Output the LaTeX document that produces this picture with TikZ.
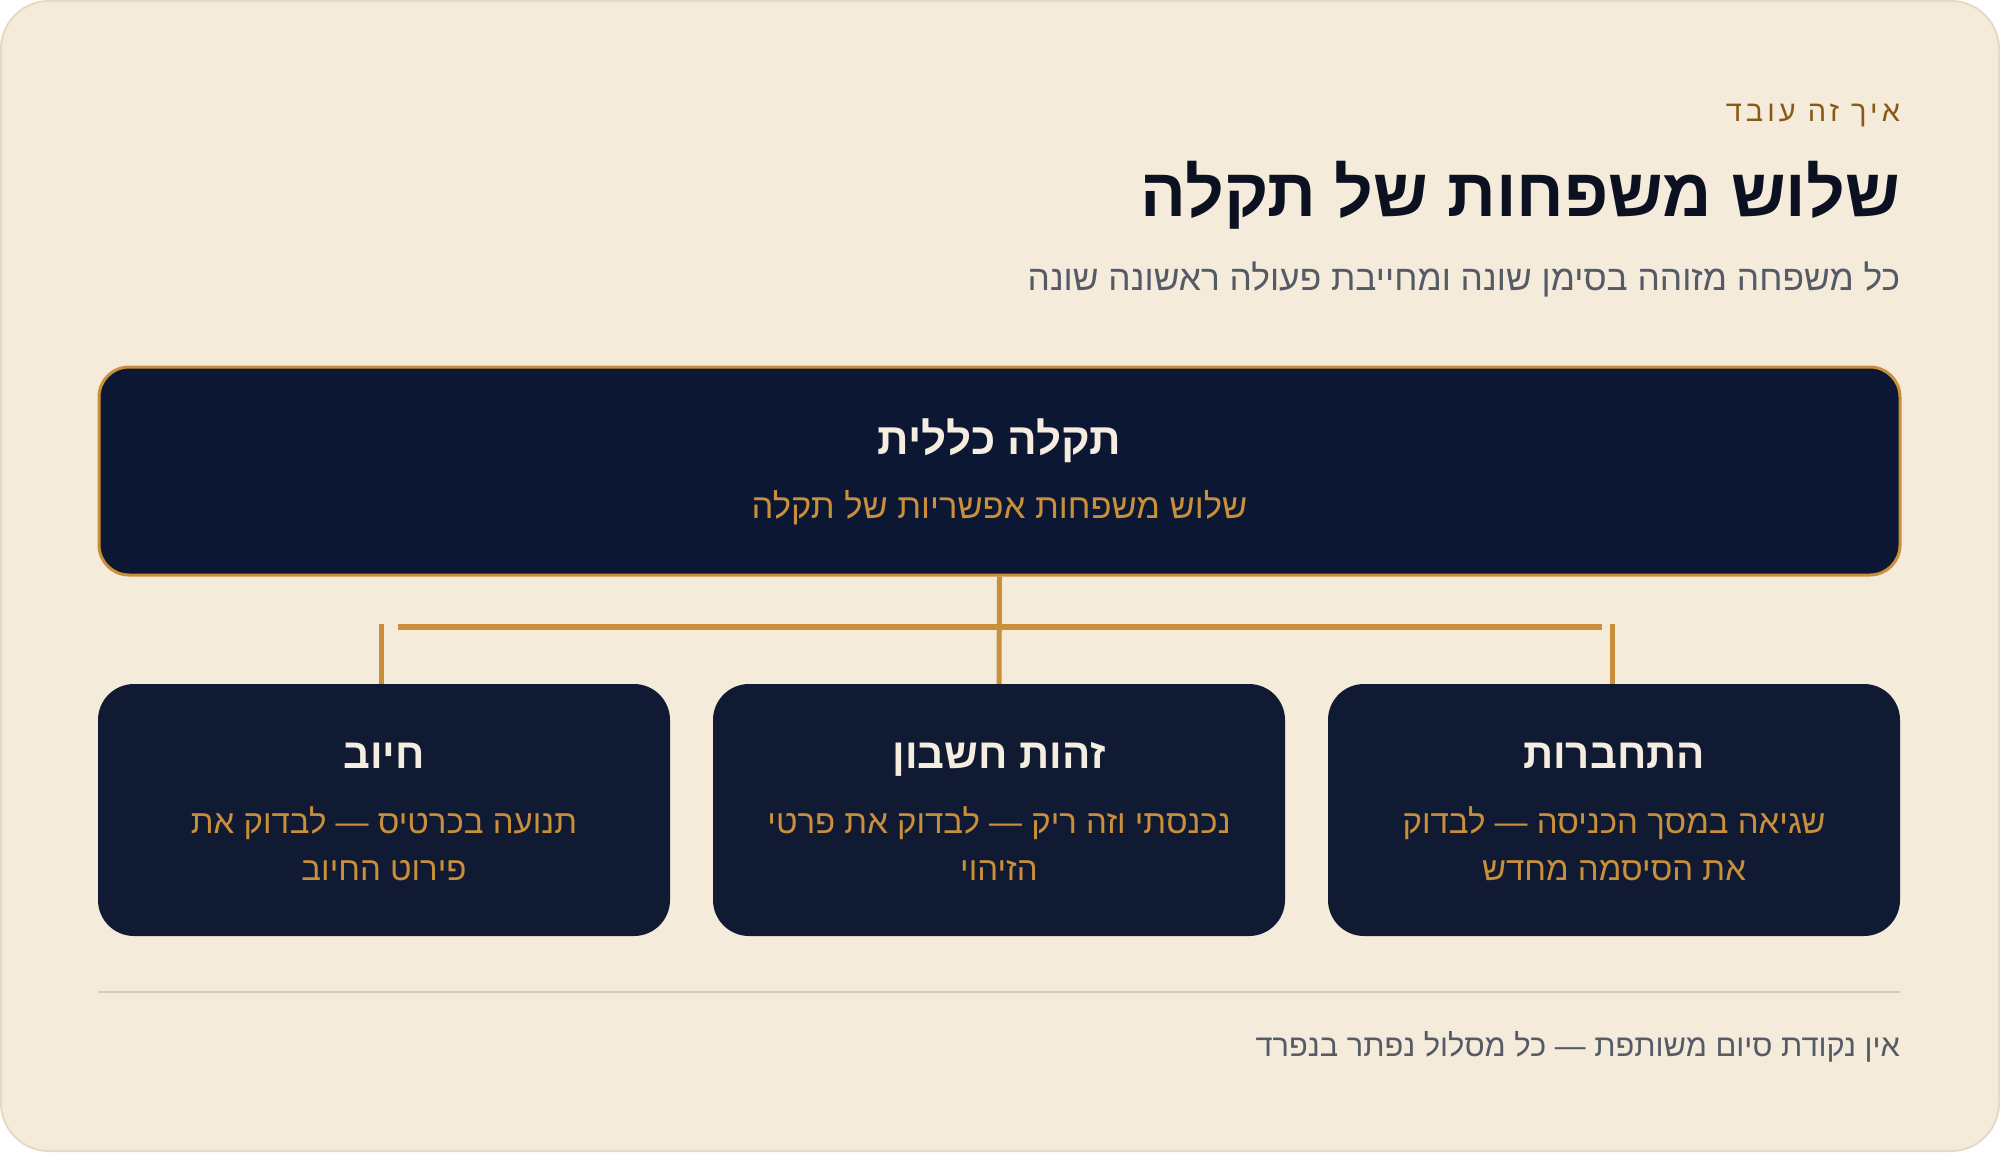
\documentclass[tikz,border=0pt]{standalone}
\usepackage{fontspec}
\setmainfont{Liberation Sans}
\newfontfamily\heb[Script=Hebrew]{Liberation Sans}
\newfontfamily\hebls[Script=Hebrew,LetterSpace=14]{Liberation Sans}
\TeXXeTstate=1
\definecolor{bg}{HTML}{F4EBDB}
\definecolor{bord}{HTML}{E5DBC2}
\definecolor{navyA}{HTML}{0C1833}
\definecolor{navyB}{HTML}{101B33}
\definecolor{gold}{HTML}{C98F3A}
\definecolor{ink}{HTML}{0B1120}
\definecolor{cream}{HTML}{F5EDE0}
\definecolor{grayt}{HTML}{555B66}
\definecolor{brown}{HTML}{8A5A14}
\definecolor{sepc}{HTML}{D3CABB}
\newcommand\RLt[1]{\beginR #1\endR}
\begin{document}
\begin{tikzpicture}[x=1pt,y=-1pt,
  txt/.style={inner sep=0pt, outer sep=0pt},
  topbox/.style={draw=gold, line width=3pt, fill=navyA, rounded corners=30pt, minimum width=1801pt, minimum height=208pt, inner sep=0pt},
  catbox/.style={fill=navyB, rounded corners=36pt, minimum width=572pt, minimum height=252pt, inner sep=0pt},
  conn/.style={draw=gold, line width=5pt},
  bar/.style={draw=gold, line width=6pt},
  boxtitle/.style={txt, text=cream, font=\heb\bfseries\fontsize{42}{50}\selectfont, anchor=base},
  boxline/.style={txt, text=gold, font=\heb\fontsize{33}{38}\selectfont, anchor=base},
  head/.style={txt, anchor=base east}
]
\useasboundingbox (0,0) rectangle (2000,1152);
\fill[white] (0,0) rectangle (2000,1152);
\draw[fill=bg, draw=bord, line width=2pt, rounded corners=48pt] (1,1) rectangle (1999,1151);

% header
\node[head, text=brown, font=\hebls\fontsize{29}{32}\selectfont] (over) at (1900,121) {\RLt{איך זה עובד}};
\node[head, text=ink, font=\heb\bfseries\fontsize{68}{80}\selectfont] (title) at (1900,216) {\RLt{שלוש משפחות של תקלה}};
\node[head, text=grayt, font=\heb\fontsize{35.3}{40}\selectfont] (subtitle) at (1900,290) {\RLt{כל משפחה מזוהה בסימן שונה ומחייבת פעולה ראשונה שונה}};

% top box
\node[topbox] (top) at (999.5,471) {};
\node[txt, text=cream, font=\heb\bfseries\fontsize{44}{52}\selectfont, anchor=base] (toptitle) at (999.5,454) {\RLt{תקלה כללית}};
\node[txt, text=gold, font=\heb\fontsize{34.5}{40}\selectfont, anchor=base] (topsub) at (999.5,518) {\RLt{שלוש משפחות אפשריות של תקלה}};

% category boxes
\node[catbox] (b1) at (384,810) {};
\node[catbox] (b2) at (999,810) {};
\node[catbox] (b3) at (1614,810) {};

\node[boxtitle] (b1t) at (384,768) {\RLt{חיוב}};
\node[boxline] (b1a) at (384,833) {\RLt{תנועה בכרטיס — לבדוק את}};
\node[boxline] (b1b) at (384,880) {\RLt{פירוט החיוב}};

\node[boxtitle] (b2t) at (999,768) {\RLt{זהות חשבון}};
\node[boxline] (b2a) at (999,833) {\RLt{נכנסתי וזה ריק — לבדוק את פרטי}};
\node[boxline] (b2b) at (999,880) {\RLt{הזיהוי}};

\node[boxtitle] (b3t) at (1614,768) {\RLt{התחברות}};
\node[boxline] (b3a) at (1614,833) {\RLt{שגיאה במסך הכניסה — לבדוק}};
\node[boxline] (b3b) at (1614,880) {\RLt{את הסיסמה מחדש}};

% connectors
\coordinate (hl) at (398,627);
\coordinate (hr) at (1602,627);
\coordinate (j1) at (381,624);
\coordinate (j3) at (1612,624);
\coordinate (k1) at (381,684);
\coordinate (k3) at (1612,684);
\draw[conn] (top.south) -- (b2.north);
\draw[bar] (hl) -- (hr);
\draw[conn] (j1) -- (k1);
\draw[conn] (j3) -- (k3);

% footer
\coordinate (sl) at (98,992);
\coordinate (sr) at (1900,992);
\draw[draw=sepc, line width=2pt] (sl) -- (sr);
\node[head, text=grayt, font=\heb\fontsize{30.8}{36}\selectfont] (foot) at (1900,1056) {\RLt{אין נקודת סיום משותפת — כל מסלול נפתר בנפרד}};
\end{tikzpicture}
\end{document}
